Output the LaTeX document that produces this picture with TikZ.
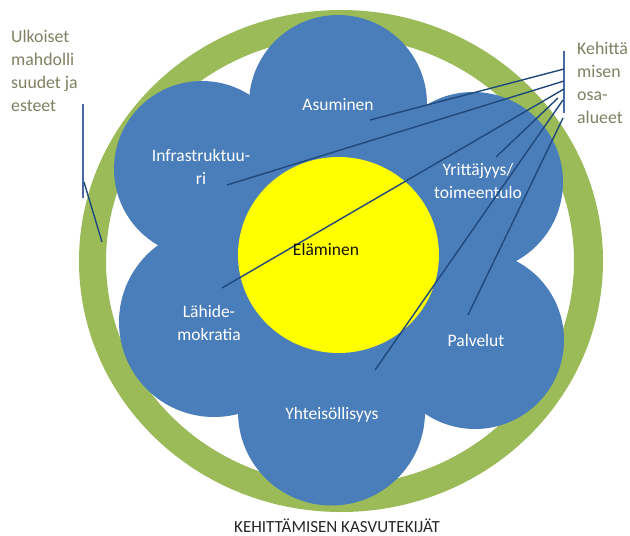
\documentclass[tikz,border=0pt]{standalone}
\usepackage{fontspec}
\setmainfont{Carlito}
\definecolor{petal}{HTML}{4A7EBB}
\definecolor{ringc}{HTML}{9BBB59}
\definecolor{linec}{HTML}{1F497D}
\definecolor{barc}{HTML}{4A6AA5}
\definecolor{olive}{HTML}{7F7F62}
\definecolor{coreyellow}{RGB}{255,255,0}
\tikzset{
 px/.style={x=1pt,y=-1pt},
 petal/.style={circle,fill=petal,draw=none,inner sep=0pt,minimum size=#1pt},
 wl/.style={text=white,font=\fontsize{17.5}{23}\selectfont,align=center,inner sep=0pt},
 ol/.style={text=olive,font=\fontsize{17.8}{23}\selectfont,align=left,inner sep=0pt,anchor=west},
 ln/.style={draw=linec,line width=1.4pt},
 bar/.style={draw=barc,line width=2.4pt},
}
\begin{document}
\begin{tikzpicture}[px]
\useasboundingbox (0,0) rectangle (630,536);
\fill[ringc,even odd rule] (341,261) ellipse [x radius=262,y radius=251]
  (340,261) ellipse [x radius=234,y radius=224];
\node[petal=178] (p1) at (338,104) {};
\node[petal=176] (p2) at (202,169) {};
\node[petal=180] (p3) at (473,182) {};
\node[petal=190] (p4) at (214,322) {};
\node[petal=178] (p5) at (475,340) {};
\node[petal=187] (p6) at (331.5,412) {};
\node[circle,fill=petal,inner sep=0pt,minimum size=300pt] (mid) at (340,260) {};
\fill[coreyellow] (338.5,255) ellipse [x radius=100.5,y radius=98];
\node[wl] (a) at (338,105) {Asuminen};
\node[wl] (i) at (201,167) {Infrastruktuu-\\ri};
\node[wl] (y) at (478,181) {Yrittäjyys/\\toimeentulo};
\node[wl] (l) at (209,323) {Lähide-\\mokratia};
\node[wl] (pa) at (476,340) {Palvelut};
\node[wl] (yh) at (332,415) {Yhteisöllisyys};
\node[ol] (u) at (11,71) {Ulkoiset\\mahdolli\\suudet ja\\esteet};
\node[ol] (k) at (577,83) {Kehittä\\misen\\osa-\\alueet};
\coordinate (ubt) at (83,104);
\coordinate (ubb) at (83,198);
\coordinate (us) at (84,182);
\coordinate (ue) at (102,242);
\coordinate (kt) at (564,51);
\coordinate (kb) at (564,113);
\coordinate (k1) at (564,69);
\coordinate (k2) at (564,81);
\coordinate (k3) at (564,89);
\coordinate (k4) at (558,98);
\coordinate (k5) at (563,100);
\coordinate (k6) at (563,118);
\coordinate (e1) at (370,120);
\coordinate (e2) at (227,185);
\coordinate (e3) at (222,288);
\coordinate (e4) at (496,157);
\coordinate (e5) at (375,370);
\coordinate (e6) at (468,315);
\draw[bar] (ubt)--(ubb);
\draw[ln] (us)--(ue);
\draw[bar] (kt)--(kb);
\draw[ln] (k1)--(e1);
\draw[ln] (k2)--(e2);
\draw[ln] (k3)--(e3);
\draw[ln] (k4)--(e4);
\draw[ln] (k5)--(e5);
\draw[ln] (k6)--(e6);
\node[inner sep=0pt,text=black!85!olive,font=\fontsize{17.5}{21}\selectfont] (e) at (326,249) {Eläminen};
\node[inner sep=0pt,text=black!85,font=\fontsize{17}{21}\selectfont] (t) at (337,525.5) {KEHITTÄMISEN KASVUTEKIJÄT};
\end{tikzpicture}
\end{document}
